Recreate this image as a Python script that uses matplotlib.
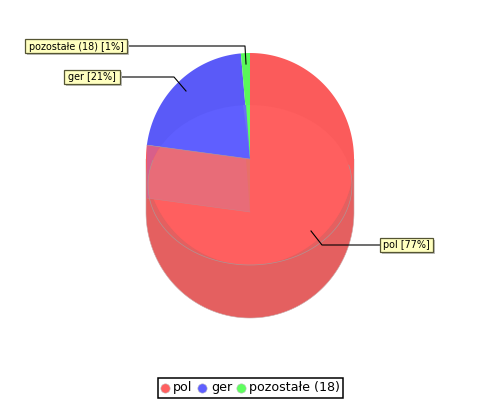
import matplotlib
import matplotlib.pyplot as plt
import numpy as np
from matplotlib.patches import Ellipse, Polygon

matplotlib.use("Agg")

labels = ["pol", "ger", "pozostałe (18)"]
values = [77.1, 21.5, 1.4]
percent_labels = ["pol [77%]", "ger [21%]", "pozostałe (18) [1%]"]
colors = ["#ff5f5f", "#5f5fff", "#5fff5f"]
back_colors = ["#fb5b5b", "#5a5af8", "#5af85a"]

cx, cy = 250, 159
rx, ry = 104, 106
depth = 53
inner_cy, inner_rx, inner_ry = 185, 102, 80
font = "DejaVu Sans"


def ellipse_points(theta, y_centre=cy, x_rad=rx, y_rad=ry):
    # theta is clockwise from twelve o'clock, picture y points down
    return cx + x_rad * np.sin(theta), y_centre - y_rad * np.cos(theta)


def sector(start, end, y_centre=cy):
    theta = np.linspace(start, end, 200)
    x, y = ellipse_points(theta, y_centre)
    return np.column_stack([np.r_[cx, x], np.r_[y_centre, y]])


def label_box(ax, text, x, y, width):
    shadow = plt.Rectangle((x + 2, y + 2), width, 14, fc="#c0c0c0", ec="none", zorder=8)
    box = plt.Rectangle((x, y), width, 14, fc="#ffffc0", ec="#555533", lw=0.9, zorder=9)
    ax.add_patch(shadow)
    ax.add_patch(box)
    ax.text(x + width / 2, y + 7.5, text, ha="center", va="center", fontsize=6.9,
            family=font, zorder=10)


fig = plt.figure(figsize=(5, 4), dpi=100)
ax = fig.add_axes([0, 0, 1, 1])
ax.set_xlim(0, 500)
ax.set_ylim(400, 0)
ax.axis("off")

edges = np.r_[0, np.cumsum(values)] / np.sum(values) * 2 * np.pi
ger_x, ger_y = ellipse_points(edges[1])
band = [(ger_x, ger_y), (cx, cy), (cx, cy + depth), (ger_x, ger_y + depth)]

# side wall, from the top disc down to the bottom one
t = np.linspace(np.pi / 2, 3 * np.pi / 2, 200)
wall_x, wall_y = ellipse_points(t, cy + depth)
wall = np.column_stack([np.r_[cx + rx, wall_x, cx - rx], np.r_[cy, wall_y, cy]])
ax.add_patch(Polygon(wall, fc="#e46060", ec="#c8a8a8", lw=0.4, zorder=1))

# top slices as seen behind the front ellipse
for i in range(len(values)):
    ax.add_patch(Polygon(sector(edges[i], edges[i + 1]), fc=back_colors[i], ec="none", zorder=2))
ax.add_patch(Polygon(band, fc="#d85f8a", ec="none", zorder=3))

# lighter front ellipse, everything in it is clipped to it
front = Ellipse((cx, inner_cy), 2 * inner_rx, 2 * inner_ry, fc="none", ec="none")
ax.add_patch(front)
for i in range(len(values)):
    wedge = Polygon(sector(edges[i], edges[i + 1]), fc=colors[i], ec="none", zorder=4)
    ax.add_patch(wedge)
    wedge.set_clip_path(front)
band_front = Polygon(band, fc="#e86c78", ec="none", zorder=4)
ax.add_patch(band_front)
band_front.set_clip_path(front)

# thin walls of the green slice showing through
ax.add_patch(Polygon([(cx, cy), (cx - 4, cy), (cx, cy + depth)], fc="#e87068", ec="none", zorder=5))
ax.add_patch(Polygon([(cx - 7, inner_cy - inner_ry), (cx - 4, inner_cy - inner_ry), (cx, cy)],
                     fc="#6a70f4", ec="none", zorder=5))

# grey seams
ax.plot([band[0][0], band[1][0]], [band[0][1], band[1][1]], color="#a09aaa", lw=0.4, zorder=5)
ax.plot([band[3][0], band[2][0]], [band[3][1], band[2][1]], color="#d08088", lw=0.4, zorder=5)
theta = np.linspace(np.pi * 0.42, np.pi * 1.6, 200)
ix, iy = ellipse_points(theta, inner_cy, inner_rx, inner_ry)
ax.plot(ix, iy, color="#b09494", lw=0.5, zorder=5)

# label leader lines
ax.plot([127, 245, 246], [46, 46, 64], color="black", lw=0.8, zorder=7)
ax.plot([120, 174, 186], [77, 77, 91], color="black", lw=0.8, zorder=7)
ax.plot([380, 322, 311], [245, 245, 231], color="black", lw=0.8, zorder=7)

label_box(ax, percent_labels[2], 25, 39, 102)
label_box(ax, percent_labels[1], 64, 70, 56)
label_box(ax, percent_labels[0], 380, 238, 53)

# legend
ax.add_patch(plt.Rectangle((157.5, 378), 185, 20, fc="white", ec="black", lw=1.1, zorder=5))
legend_x = [165, 202, 241]
text_x = [173, 211, 249]
for i in range(3):
    ax.scatter(legend_x[i], 388, s=45, color=colors[i], ec="#c0c0c0", lw=0.4, zorder=6)
    ax.text(text_x[i], 387.5, labels[i], ha="left", va="center", fontsize=9.1,
            family=font, zorder=6)

fig.savefig("out.png", dpi=100)
plt.close(fig)
